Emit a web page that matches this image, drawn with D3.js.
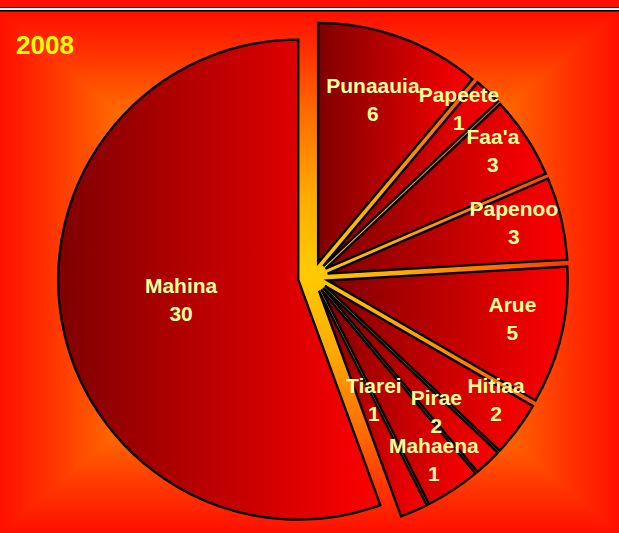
<!DOCTYPE html>
<html>
<head>
<meta charset="utf-8">
<script src="https://cdn.jsdelivr.net/npm/d3@7"></script>
<style>
  html, body { margin: 0; padding: 0; background: #ff1000; }
  svg { display: block; }
</style>
</head>
<body>
<svg id="chart" width="619" height="533"></svg>
<script>
// ---- data ----
const title = "2008";
const categories = ["Punaauia", "Papeete", "Faa'a", "Papenoo", "Arue", "Hitiaa", "Mahaena", "Pirae", "Tiarei", "Mahina"];
const values = [6, 1, 3, 3, 5, 2, 1, 2, 1, 30];

// ---- layout ----
const W = 619, H = 533;
const areaTop = 12;
const cx = 313, cy = 277, R = 240, explode = 15;
// label placement: [fraction of radius, angle offset in degrees] from slice mid-angle
const labelPlacement = {
  "Punaauia": [0.72, -1.5], "Papeete": [0.868, -2.7], "Faa'a": [0.854, -1.9],
  "Papenoo": [0.805, -2.0], "Arue": [0.786, -1.8], "Hitiaa": [0.856, -3.0],
  "Mahaena": [0.852, 10.6], "Pirae": [0.70, -9.9], "Tiarei": [0.507, -3.5],
  "Mahina": [0.495, 0.4]
};

const svg = d3.select("#chart");
const defs = svg.append("defs");

// background gradient stops (rectangular "from centre" gradient)
const bgStops = [
  [0, "#ffcc00"], [0.3, "#ffaa00"], [0.62, "#ff6a00"], [0.85, "#ff3000"], [1, "#ff1000"]
];
const gcx = W / 2, gcy = (areaTop + H) / 2;
const sides = [
  { id: "bgTop", pts: [[gcx, gcy], [0, areaTop], [W, areaTop]], to: [gcx, areaTop] },
  { id: "bgBottom", pts: [[gcx, gcy], [0, H], [W, H]], to: [gcx, H] },
  { id: "bgLeft", pts: [[gcx, gcy], [0, areaTop], [0, H]], to: [0, gcy] },
  { id: "bgRight", pts: [[gcx, gcy], [W, areaTop], [W, H]], to: [W, gcy] }
];
sides.forEach(s => {
  const g = defs.append("linearGradient").attr("id", s.id)
    .attr("gradientUnits", "userSpaceOnUse")
    .attr("x1", gcx).attr("y1", gcy).attr("x2", s.to[0]).attr("y2", s.to[1]);
  bgStops.forEach(([o, c]) => g.append("stop").attr("offset", o).attr("stop-color", c));
});

// slice gradient
const sg = defs.append("linearGradient").attr("id", "sliceGrad")
  .attr("x1", 0).attr("y1", 0).attr("x2", 1).attr("y2", 0);
sg.append("stop").attr("offset", 0).attr("stop-color", "#800000");
sg.append("stop").attr("offset", 1).attr("stop-color", "#ff0000");

// top strip and border lines
svg.append("rect").attr("x", 0).attr("y", 0).attr("width", W).attr("height", 7).attr("fill", "#ff1000");
svg.append("rect").attr("x", 0).attr("y", 7).attr("width", W).attr("height", 1).attr("fill", "#000");
svg.append("rect").attr("x", 0).attr("y", 8).attr("width", W).attr("height", 2).attr("fill", "#fff");
svg.append("rect").attr("x", 0).attr("y", 10).attr("width", W).attr("height", 2).attr("fill", "#000");

// background
const bg = svg.append("g");
sides.forEach(s => {
  bg.append("path")
    .attr("d", "M" + s.pts.map(p => p.join(",")).join("L") + "Z")
    .attr("fill", `url(#${s.id})`)
    .attr("stroke", `url(#${s.id})`)
    .attr("stroke-width", 1);
});

// pie
const data = categories.map((c, i) => ({ name: c, value: values[i] }));
const pie = d3.pie().sort(null).value(d => d.value).startAngle(0).endAngle(2 * Math.PI);
const arc = d3.arc().innerRadius(0).outerRadius(R);
const arcs = pie(data);
const shift = d => {
  const m = (d.startAngle + d.endAngle) / 2;
  return [explode * Math.sin(m), -explode * Math.cos(m)];
};

const pg = svg.append("g").attr("transform", `translate(${cx},${cy})`);
pg.append("g").selectAll("path").data(arcs).join("path")
  .attr("transform", d => `translate(${shift(d)})`)
  .attr("d", arc)
  .attr("fill", "url(#sliceGrad)")
  .attr("stroke", "#000")
  .attr("stroke-width", 2.4)
  .attr("stroke-linejoin", "miter");

// labels (separate layer, on top)
const lg = pg.append("g");
arcs.forEach(d => {
  const [sx, sy] = shift(d);
  const [rf, off] = labelPlacement[d.data.name] || [0.8, 0];
  const m = (d.startAngle + d.endAngle) / 2 + off * Math.PI / 180;
  const x = sx + rf * R * Math.sin(m), y = sy - rf * R * Math.cos(m);
  const t = lg.append("text")
    .attr("text-anchor", "middle")
    .attr("font-family", "'Liberation Sans', Arial, sans-serif")
    .attr("font-weight", "bold")
    .attr("font-size", 21)
    .attr("fill", "#ffff99");
  t.append("tspan").attr("x", x).attr("y", y - 6.5).text(d.data.name);
  t.append("tspan").attr("x", x).attr("y", y + 21.5).text(d.data.value);
});

// title
svg.append("text")
  .attr("x", 16).attr("y", 54)
  .attr("font-family", "'Liberation Sans', Arial, sans-serif")
  .attr("font-weight", "bold")
  .attr("font-size", 26)
  .attr("fill", "#ffff00")
  .text(title);
</script>
</body>
</html>
